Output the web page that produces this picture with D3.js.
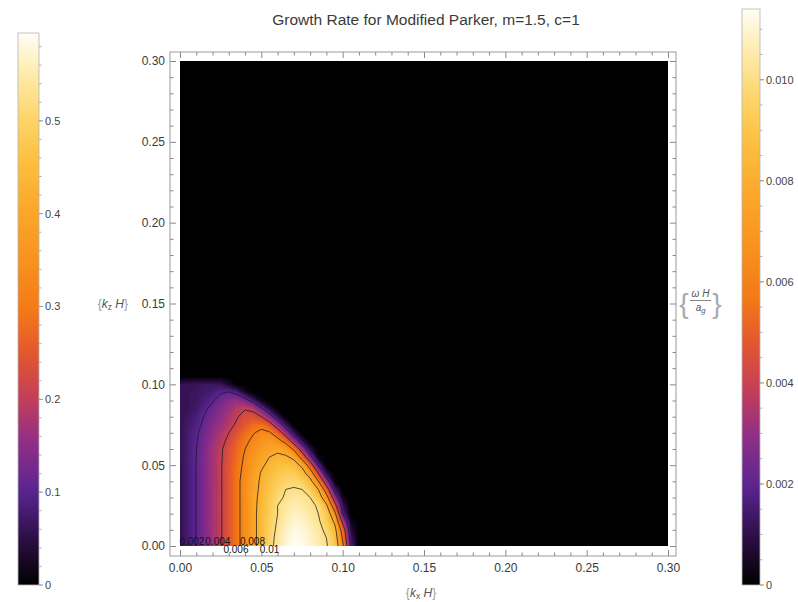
<!DOCTYPE html>
<html>
<head>
<meta charset="utf-8">
<script src="https://cdn.jsdelivr.net/npm/d3@7"></script>
<style>
  body { margin: 0; background: #fff; }
  svg { display: block; font-family: "Liberation Sans", Arial, sans-serif; }
</style>
</head>
<body>
<svg id="chart" width="798" height="602"></svg>
<script>
const title = "Growth Rate for Modified Parker, m=1.5, c=1";

// grid spacing of the sampled growth rate
const kxStep = 0.005;
const kzStep = 0.005;

// growth rate omega H / a_g, one row per kz = 0, 0.005, ... 0.105
// each row holds kx = 0, 0.005, ... 0.11
const growth = [
  [0.0011,0.00156,0.00202,0.00264,0.00326,0.00388,0.00473,0.00564,0.0066,0.0076,0.0086,0.0096,0.0104,0.0110,0.0114,0.0113,0.0110,0.0106,0.0101,0.0093,0.0064,0.0018,0],
  [0.0011,0.00156,0.00202,0.00264,0.00326,0.00388,0.00473,0.00564,0.0066,0.0076,0.0086,0.0096,0.0103,0.0109,0.0113,0.0112,0.0109,0.0105,0.0100,0.0090,0.0058,0.0013,0],
  [0.0011,0.00156,0.00202,0.00264,0.00326,0.00388,0.00473,0.00564,0.0066,0.0076,0.0086,0.0095,0.0102,0.0108,0.0112,0.0111,0.0108,0.0104,0.0097,0.0086,0.0052,0.0008,0],
  [0.0011,0.00156,0.00202,0.00264,0.00326,0.00388,0.00473,0.00564,0.0066,0.0076,0.0086,0.0094,0.0101,0.0106,0.0110,0.0109,0.0106,0.0102,0.0093,0.0078,0.0036,0.0004,0],
  [0.0011,0.00156,0.00202,0.00264,0.00326,0.00388,0.00473,0.00564,0.0066,0.0076,0.0086,0.0093,0.0100,0.0105,0.0108,0.0107,0.0104,0.0100,0.0092,0.0066,0.0018,0,0],
  [0.0011,0.00156,0.00202,0.00264,0.00326,0.00388,0.00473,0.00564,0.0066,0.0076,0.0085,0.0092,0.0100,0.0104,0.0106,0.0105,0.0102,0.0099,0.0083,0.0048,0.0012,0,0],
  [0.0011,0.00156,0.00202,0.00264,0.00326,0.00388,0.00473,0.00564,0.0066,0.0076,0.0084,0.0091,0.0098,0.0101,0.01035,0.0103,0.0100,0.0090,0.0068,0.0030,0.0004,0,0],
  [0.0011,0.00156,0.00202,0.00264,0.00326,0.00388,0.00473,0.00564,0.0066,0.0075,0.0083,0.0089,0.0095,0.0100,0.0101,0.0100,0.0093,0.0080,0.0050,0.0014,0,0,0],
  [0.0011,0.00156,0.00202,0.00264,0.00326,0.00388,0.00473,0.00564,0.0066,0.0075,0.0082,0.0088,0.0093,0.0096,0.0097,0.0094,0.0086,0.0061,0.0028,0.0002,0,0,0],
  [0.0011,0.00156,0.00202,0.00264,0.00326,0.00388,0.00473,0.00562,0.0064,0.0073,0.0081,0.0086,0.0090,0.0093,0.0092,0.0087,0.0071,0.0040,0.0010,0,0,0,0],
  [0.0011,0.00156,0.00202,0.00264,0.00326,0.00388,0.0047,0.0055,0.0063,0.0071,0.0078,0.0083,0.0087,0.0088,0.0086,0.0077,0.0050,0.0018,0,0,0,0,0],
  [0.0011,0.00155,0.0020,0.00262,0.00324,0.00386,0.0046,0.0053,0.0062,0.0069,0.0075,0.0080,0.0083,0.0082,0.0077,0.0053,0.0025,0.0003,0,0,0,0,0],
  [0.0011,0.00155,0.00198,0.0026,0.0032,0.00385,0.0045,0.0052,0.0060,0.0066,0.0071,0.0075,0.0077,0.0073,0.0057,0.0031,0.0009,0,0,0,0,0,0],
  [0.0011,0.00152,0.00192,0.0025,0.0031,0.0036,0.0043,0.0050,0.0057,0.0063,0.0068,0.0071,0.0066,0.0054,0.0031,0.0010,0,0,0,0,0,0,0],
  [0.0011,0.0015,0.00185,0.0024,0.0029,0.0034,0.0040,0.0047,0.0053,0.0059,0.0064,0.0062,0.0050,0.0031,0.0011,0,0,0,0,0,0,0,0],
  [0.0011,0.0014,0.0017,0.0022,0.0027,0.0031,0.0036,0.0042,0.0048,0.0053,0.0055,0.0047,0.0030,0.0012,0,0,0,0,0,0,0,0,0],
  [0.0011,0.0013,0.0016,0.00205,0.0025,0.0029,0.0034,0.0039,0.0045,0.0046,0.0040,0.0027,0.0011,0,0,0,0,0,0,0,0,0,0],
  [0.0011,0.0012,0.0014,0.0018,0.0023,0.0027,0.0031,0.0036,0.0039,0.0036,0.0022,0.0008,0,0,0,0,0,0,0,0,0,0,0],
  [0.0011,0.0012,0.0013,0.0016,0.0019,0.0024,0.0028,0.0030,0.0025,0.0015,0.0003,0,0,0,0,0,0,0,0,0,0,0,0],
  [0.0011,0.0012,0.0013,0.0014,0.0016,0.0019,0.0021,0.0017,0.0006,0,0,0,0,0,0,0,0,0,0,0,0,0,0],
  [0.0011,0.0012,0.0012,0.0013,0.0013,0.0012,0.0006,0,0,0,0,0,0,0,0,0,0,0,0,0,0,0,0],
  [0,0,0,0,0,0,0,0,0,0,0,0,0,0,0,0,0,0,0,0,0,0,0]
];

const contourLevels = [0.002, 0.004, 0.006, 0.008, 0.010];
const contourLabels = ["0.002", "0.004", "0.006", "0.008", "0.01"];

const axisTicks = [0, 0.05, 0.10, 0.15, 0.20, 0.25, 0.30];

const rightBarMax = 0.0114;
const rightBarTicks = [0, 0.002, 0.004, 0.006, 0.008, 0.010];
const rightBarLabels = ["0", "0.002", "0.004", "0.006", "0.008", "0.010"];

const leftBarMax = 0.5946;
const leftBarTicks = [0, 0.1, 0.2, 0.3, 0.4, 0.5];
const leftBarLabels = ["0", "0.1", "0.2", "0.3", "0.4", "0.5"];

// sunset-like gradient, position along bar -> colour
const gradPos = [0, 0.08, 0.17, 0.26, 0.34, 0.42, 0.5, 0.6, 0.68, 0.77, 0.85, 0.93, 1];
const gradCol = ["#000000", "#2a0e42", "#5a2591", "#902f86", "#c43f57", "#e2572f", "#f47a16",
                 "#f99520", "#fba72a", "#fcc040", "#fdd66c", "#feedb0", "#fffdf6"];
const sunset = d3.scaleLinear().domain(gradPos).range(gradCol).clamp(true);

const svg = d3.select("#chart");
const x = d3.scaleLinear().domain([0, 0.3]).range([180, 668]);
const y = d3.scaleLinear().domain([0, 0.3]).range([546, 61]);
const frame = { left: 170, right: 676, top: 52, bottom: 556 };

svg.append("text")
  .attr("x", 426).attr("y", 25)
  .attr("text-anchor", "middle")
  .attr("font-size", 15.5).attr("fill", "#3a3a3a")
  .text(title);

// density
const defs = svg.append("defs");
defs.append("clipPath").attr("id", "plotclip")
  .append("rect")
  .attr("x", x(0)).attr("y", y(0.3))
  .attr("width", x(0.3) - x(0)).attr("height", y(0) - y(0.3));

const plot = svg.append("g").attr("clip-path", "url(#plotclip)");
plot.append("rect")
  .attr("x", x(0)).attr("y", y(0.3))
  .attr("width", x(0.3) - x(0)).attr("height", y(0) - y(0.3))
  .attr("fill", "#000");

const nx = growth[0].length, nz = growth.length;
const flat = growth.flat();
const toPx = d3.geoTransform({
  point: function(gx, gz) {
    this.stream.point(x((gx - 0.5) * kxStep), y((gz - 0.5) * kzStep));
  }
});
const path = d3.geoPath(toPx);

const bandStep = 0.0001;
const bands = d3.range(bandStep, rightBarMax + bandStep / 2, bandStep);
const filled = d3.contours().size([nx, nz]).thresholds(bands)(flat);
plot.selectAll("path.band")
  .data(filled)
  .join("path")
  .attr("class", "band")
  .attr("d", path)
  .attr("fill", d => sunset(Math.min(d.value + bandStep / 2, rightBarMax) / rightBarMax))
  .attr("stroke", d => sunset(Math.min(d.value + bandStep / 2, rightBarMax) / rightBarMax))
  .attr("stroke-width", 0.3);

const lines = d3.contours().size([nx, nz]).thresholds(contourLevels)(flat);
plot.selectAll("path.cline")
  .data(lines)
  .join("path")
  .attr("class", "cline")
  .attr("d", path)
  .attr("fill", "none")
  .attr("stroke", "#1a1a1a")
  .attr("stroke-opacity", 0.75)
  .attr("stroke-width", 1);

// contour labels at the left foot of each contour, staggered like the original
const labelDy = [-1, -1, 7, -1, 7];
contourLevels.forEach((lev, k) => {
  const row = growth[0];
  const i = row.findIndex(v => v >= lev);
  const t = (lev - row[i - 1]) / (row[i] - row[i - 1]);
  const foot = (i - 1 + t) * kxStep;
  svg.append("text")
    .attr("x", x(foot) - 4)
    .attr("y", y(0) + labelDy[k])
    .attr("text-anchor", "middle")
    .attr("font-size", 10)
    .attr("fill", "#111")
    .text(contourLabels[k]);
});

// frame and ticks
svg.append("rect")
  .attr("x", frame.left).attr("y", frame.top)
  .attr("width", frame.right - frame.left).attr("height", frame.bottom - frame.top)
  .attr("fill", "none").attr("stroke", "#9a9a9a");

const minorTicks = d3.range(0, 0.3001, 0.01)
  .filter(v => Math.abs(v / 0.05 - Math.round(v / 0.05)) > 1e-6);
const fmt2 = d3.format(".2f");

function addAxis(axis, tx, ty) {
  const g = svg.append("g").attr("transform", `translate(${tx},${ty})`).call(axis);
  g.select(".domain").remove();
  g.selectAll(".tick line").attr("stroke", "#8a8a8a");
  g.selectAll(".tick text").attr("fill", "#3a3a3a").attr("font-size", 12)
    .attr("font-family", "Liberation Sans, Arial, sans-serif");
  return g;
}

addAxis(d3.axisLeft(y).tickValues(axisTicks).tickSize(-6).tickPadding(5).tickFormat(fmt2), frame.left, 0);
addAxis(d3.axisBottom(x).tickValues(axisTicks).tickSize(-6).tickPadding(7).tickFormat(fmt2), 0, frame.bottom);
addAxis(d3.axisRight(y).tickValues(axisTicks).tickSize(-6).tickFormat(""), frame.right, 0);
addAxis(d3.axisTop(x).tickValues(axisTicks).tickSize(-6).tickFormat(""), 0, frame.top);
addAxis(d3.axisLeft(y).tickValues(minorTicks).tickSize(-3.5).tickFormat(""), frame.left, 0);
addAxis(d3.axisBottom(x).tickValues(minorTicks).tickSize(-3.5).tickFormat(""), 0, frame.bottom);
addAxis(d3.axisRight(y).tickValues(minorTicks).tickSize(-3.5).tickFormat(""), frame.right, 0);
addAxis(d3.axisTop(x).tickValues(minorTicks).tickSize(-3.5).tickFormat(""), 0, frame.top);

// axis labels
const kzLab = svg.append("text").attr("x", 128).attr("y", 308)
  .attr("text-anchor", "end").attr("font-size", 12).attr("fill", "#555");
kzLab.append("tspan").attr("fill", "#999").text("{");
kzLab.append("tspan").attr("font-style", "italic").text("k");
kzLab.append("tspan").attr("font-size", 8.5).attr("dy", 2).text("z");
kzLab.append("tspan").attr("dy", -2).attr("font-style", "italic").text(" H");
kzLab.append("tspan").attr("fill", "#999").text("}");

const kxLab = svg.append("text").attr("x", 421).attr("y", 597)
  .attr("text-anchor", "middle").attr("font-size", 12).attr("fill", "#555");
kxLab.append("tspan").attr("fill", "#999").text("{");
kxLab.append("tspan").attr("font-style", "italic").text("k");
kxLab.append("tspan").attr("font-size", 8.5).attr("dy", 2).text("x");
kxLab.append("tspan").attr("dy", -2).attr("font-style", "italic").text(" H");
kxLab.append("tspan").attr("fill", "#999").text("}");

// omega H / a_g label
const om = svg.append("g").attr("fill", "#555");
om.append("text").attr("x", 684).attr("y", 313).attr("font-size", 28)
  .attr("fill", "#aaa").attr("text-anchor", "middle").text("{");
om.append("text").attr("x", 717).attr("y", 313).attr("font-size", 28)
  .attr("fill", "#aaa").attr("text-anchor", "middle").text("}");
om.append("text").attr("x", 700.5).attr("y", 297).attr("font-size", 10)
  .attr("text-anchor", "middle").attr("font-style", "italic").text("ω H");
om.append("line").attr("x1", 690).attr("x2", 711).attr("y1", 300.5).attr("y2", 300.5)
  .attr("stroke", "#666").attr("stroke-width", 0.8);
const ag = om.append("text").attr("x", 700.5).attr("y", 311).attr("font-size", 10)
  .attr("text-anchor", "middle");
ag.append("tspan").attr("font-style", "italic").text("a");
ag.append("tspan").attr("font-size", 7.5).attr("dy", 2).attr("font-style", "italic").text("g");

// colour bars
function colorBar(id, x0, width, top, bottom, max, ticks, labels, minorStep) {
  const grad = defs.append("linearGradient").attr("id", id)
    .attr("x1", 0).attr("y1", 1).attr("x2", 0).attr("y2", 0);
  d3.range(0, 1.0001, 0.02).forEach(p => {
    grad.append("stop").attr("offset", p).attr("stop-color", sunset(p));
  });
  const s = d3.scaleLinear().domain([0, max]).range([bottom, top]);
  svg.append("rect")
    .attr("x", x0).attr("y", top).attr("width", width).attr("height", bottom - top)
    .attr("fill", `url(#${id})`).attr("stroke", "#b5b5b5").attr("stroke-width", 0.8);
  const minor = d3.range(0, max, minorStep);
  svg.append("g").selectAll("line").data(minor).join("line")
    .attr("x1", x0 + width).attr("x2", x0 + width + 2.5)
    .attr("y1", d => s(d)).attr("y2", d => s(d))
    .attr("stroke", "#b0b0b0");
  svg.append("g").selectAll("line").data(ticks).join("line")
    .attr("x1", x0 + width).attr("x2", x0 + width + 4)
    .attr("y1", d => s(d)).attr("y2", d => s(d))
    .attr("stroke", "#999");
  svg.append("g").selectAll("text").data(ticks).join("text")
    .attr("x", x0 + width + 6)
    .attr("y", d => s(d))
    .attr("dy", "0.35em")
    .attr("font-size", 11)
    .attr("fill", "#444")
    .text((d, i) => labels[i]);
}

colorBar("gl", 18, 21, 33, 585, leftBarMax, leftBarTicks, leftBarLabels, 0.02);
colorBar("gr", 742, 18, 9, 585, rightBarMax, rightBarTicks, rightBarLabels, 0.0005);
</script>
</body>
</html>
